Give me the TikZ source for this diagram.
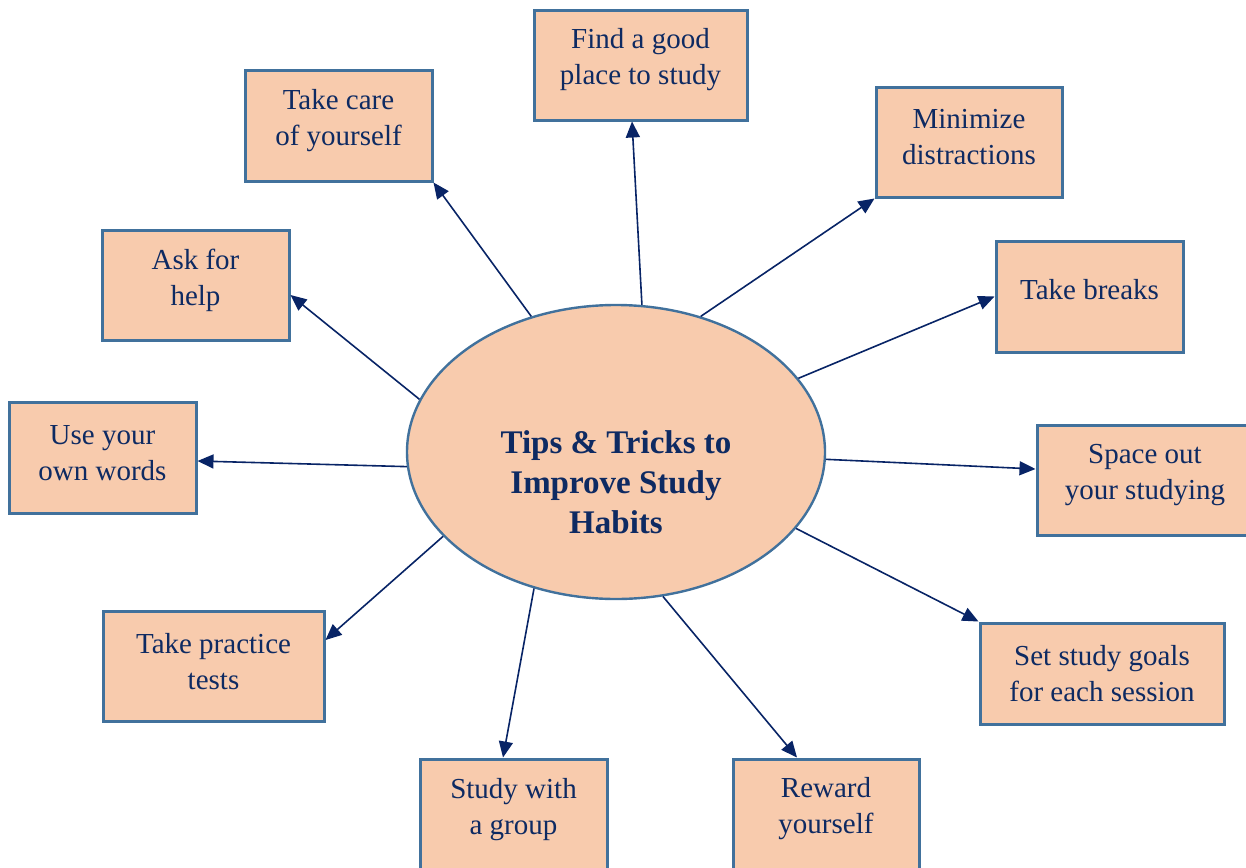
\documentclass[tikz,border=0pt]{standalone}
\usepackage{fontspec}
\setmainfont{Liberation Serif}
\usetikzlibrary{arrows.meta,shapes.geometric}
\definecolor{peach}{HTML}{F8CBAD}
\definecolor{edgeblue}{HTML}{41719C}
\definecolor{navy}{HTML}{0E2A62}
\definecolor{arrownavy}{HTML}{082466}
\tikzset{
  box/.style={draw=edgeblue, fill=peach, line width=1.5pt, rectangle, inner sep=0pt},
  boxtext/.style={text=navy, align=center, inner sep=0pt,
    font=\fontsize{14.5pt}{18pt}\selectfont},
  hub/.style={draw=edgeblue, fill=peach, line width=1.2pt, ellipse, inner sep=0pt,
    minimum width=209pt, minimum height=147pt},
  hubtext/.style={text=navy, align=center, inner sep=0pt,
    font=\fontsize{16.5pt}{20pt}\selectfont\bfseries},
  link/.style={draw=arrownavy, line width=0.8pt,
    -{Triangle[length=8pt,width=7pt]}},
}
\begin{document}
\begin{tikzpicture}[x=0.5pt, y=-0.5pt]
\useasboundingbox (0,0) rectangle (1246,867);
\clip (0,0) rectangle (1246,867);

% central topic
\node[hub] (hub) at (616,452) {};
\node[hubtext] (hubt) at (616,482) {Tips \& Tricks to\\Improve Study\\Habits};

% surrounding tips
\node[box, minimum width=106.5pt, minimum height=55pt] (find) at (640.5,65) {};
\node[boxtext] (findt) at (640.5,59.5) {Find a good\\place to study};

\node[box, minimum width=93.5pt, minimum height=55.5pt] (care) at (338.5,125.5) {};
\node[boxtext] (caret) at (338.5,120.5) {Take care\\of yourself};

\node[box, minimum width=93pt, minimum height=55pt] (mini) at (969,142) {};
\node[boxtext] (minit) at (969,137) {Minimize\\distractions};

\node[box, minimum width=93.5pt, minimum height=55pt] (ask) at (195.5,285) {};
\node[boxtext] (askt) at (195.5,280.5) {Ask for\\help};

\node[box, minimum width=93.5pt, minimum height=55.5pt] (breaks) at (1089.5,296.5) {};
\node[boxtext] (breakst) at (1089.5,289.5) {Take breaks};

\node[box, minimum width=93.5pt, minimum height=55.5pt] (use) at (102.5,457.5) {};
\node[boxtext] (uset) at (102.5,453) {Use your\\own words};

\node[box, minimum width=108pt, minimum height=55pt] (space) at (1145,480) {};
\node[boxtext] (spacet) at (1145,475.5) {Space out\\your studying};

\node[box, minimum width=110.5pt, minimum height=55pt] (practice) at (213.5,666) {};
\node[boxtext] (practicet) at (213.5,661.5) {Take practice\\tests};

\node[box, minimum width=122pt, minimum height=50.5pt] (goals) at (1102,673.5) {};
\node[boxtext] (goalst) at (1102,673.5) {Set study goals\\for each session};

\node[box, minimum width=93.5pt, minimum height=55pt] (group) at (513.5,814) {};
\node[boxtext] (groupt) at (513.5,810) {Study with\\a group};

\node[box, minimum width=93pt, minimum height=55pt] (reward) at (826,814) {};
\node[boxtext] (rewardt) at (826,809) {Reward\\yourself};

% connectors from the central topic
\draw[link] (hub.80.5)  -- ([xshift=-4.25pt]find.south);
\draw[link] (hub.122.8) -- (care.south east);
\draw[link] (hub.58.1)  -- (mini.south west);
\draw[link] (hub.165.3) -- ([yshift=-5pt]ask.east);
\draw[link] (hub.22.1)  -- (breaks.west);
\draw[link] (hub.184.9) -- ([yshift=-1.75pt]use.east);
\draw[link] (hub.-2.2)  -- ([yshift=5.5pt]space.west);
\draw[link] (hub.206)   -- ([yshift=13pt]practice.east);
\draw[link] (hub.-23.8) -- (goals.north west);
\draw[link] (hub.239.3) -- ([xshift=-5.25pt]group.north);
\draw[link] (hub.288.9) -- ([xshift=-14.5pt]reward.north);
\end{tikzpicture}
\end{document}
